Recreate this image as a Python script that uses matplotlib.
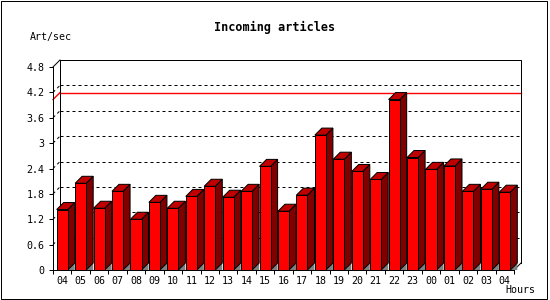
import matplotlib
matplotlib.use("Agg")
from matplotlib import pyplot as plt
from matplotlib.patches import Rectangle, Polygon

hours = ["04", "05", "06", "07", "08", "09", "10", "11", "12", "13", "14", "15", "16",
         "17", "18", "19", "20", "21", "22", "23", "00", "01", "02", "03", "04"]
rates = [1.43, 2.05, 1.46, 1.86, 1.20, 1.60, 1.46, 1.74, 1.98, 1.72, 1.86, 2.45, 1.39,
         1.77, 3.19, 2.62, 2.33, 2.14, 4.03, 2.66, 2.38, 2.46, 1.86, 1.91, 1.84]
y_ticks = [0, 0.6, 1.2, 1.8, 2.4, 3, 3.6, 4.2, 4.8]
y_tick_labels = ["0", "0.6", "1.2", "1.8", "2.4", "3", "3.6", "4.2", "4.8"]

W, H = 550, 300
fig = plt.figure(figsize=(5.5, 3), dpi=100)
fig.patch.set_facecolor("white")

# front plane of the plot, in pixels
x0, x1, y0, y1 = 53, 514, 270, 67
ax = fig.add_axes([x0 / W, 1 - y0 / H, (x1 - x0) / W, (y0 - y1) / H])
n = len(rates)
ymax = 4.8
ax.set_xlim(0, n)
ax.set_ylim(0, ymax)

# 3d depth, 7 px right and up, in data units
dx = 7 * n / (x1 - x0)
dy = 7 * ymax / (y0 - y1)

mono = "DejaVu Sans Mono"
lw = 0.72  # one pixel
kw = dict(clip_on=False)

# back wall outline (straight parts snap to pixels, diagonals drawn apart)
ax.plot([dx, dx, n + dx, n + dx], [dy, ymax + dy, ymax + dy, dy], color="black", lw=lw, **kw)
ax.plot([0, dx], [ymax, ymax + dy], color="black", lw=lw, **kw)
ax.plot([n, n + dx], [0, dy], color="black", lw=lw, **kw)

# dotted grid on the back wall and left side
for t in y_ticks[1:-1]:
    ax.plot([dx, n + dx], [t + dy, t + dy], color="black", lw=lw,
            linestyle=(0, (3, 3)), zorder=1, **kw)
    ax.plot([0, dx], [t, t + dy], color="black", lw=lw,
            linestyle=(0, (3, 3)), zorder=1, **kw)

# max line
mx = max(rates)
ax.plot([dx, n + dx], [mx + dy, mx + dy], color="#ff0000", lw=1.0, zorder=1.5, **kw)
ax.plot([0, dx], [mx, mx + dy], color="#ff0000", lw=1.0, zorder=1.5, **kw)

# bars
bw = 0.6
for i, v in enumerate(rates):
    l = i + (1 - bw) / 2
    r = l + bw
    ax.add_patch(Polygon([(r, 0), (r + dx, dy), (r + dx, 0)], closed=True,
                         facecolor="#808080", edgecolor="none", zorder=2, **kw))
    ax.add_patch(Polygon([(r, 0), (r + dx, dy), (r + dx, v + dy), (r, v)], closed=True,
                         facecolor="#800000", edgecolor="black", lw=lw, zorder=3, **kw))
    ax.add_patch(Polygon([(l, v), (r, v), (r + dx, v + dy), (l + dx, v + dy)], closed=True,
                         facecolor="#c00000", edgecolor="black", lw=lw, zorder=3, **kw))
ax.bar([i + 0.5 for i in range(n)], rates, width=bw, color="#ff0000",
       edgecolor="black", linewidth=lw, zorder=4)

ax.set_facecolor("none")
for s in ["top", "right"]:
    ax.spines[s].set_visible(False)
for s in ["left", "bottom"]:
    ax.spines[s].set_linewidth(lw)
    ax.spines[s].set_zorder(5)

ax.set_yticks(y_ticks)
ax.set_yticklabels(y_tick_labels, fontfamily=mono, fontsize=7.2)
ax.set_xticks([i + 0.5 for i in range(n)])
ax.set_xticklabels(hours, fontfamily=mono, fontsize=7.2)
ax.set_xticks(range(n + 1), minor=True)
ax.tick_params(axis="x", which="major", length=0, pad=4)
ax.tick_params(axis="x", which="minor", length=3, width=lw, direction="out")
ax.tick_params(axis="y", length=3, width=lw, pad=3)

fig.text(275 / W, 1 - 27 / H, "Incoming articles", ha="center", va="center",
         fontfamily=mono, fontweight="bold", fontsize=8.5)
fig.text(30 / W, 1 - 37 / H, "Art/sec", ha="left", va="center", fontfamily=mono, fontsize=7.2)
fig.text(505 / W, 1 - 290 / H, "Hours", ha="left", va="center", fontfamily=mono, fontsize=7.2)

fig.add_artist(Rectangle((0.5 / W, 1 - 298.5 / H), 546 / W, 298 / H, transform=fig.transFigure,
                         facecolor="none", edgecolor="black", lw=lw))

fig.savefig("out.png", dpi=100)
